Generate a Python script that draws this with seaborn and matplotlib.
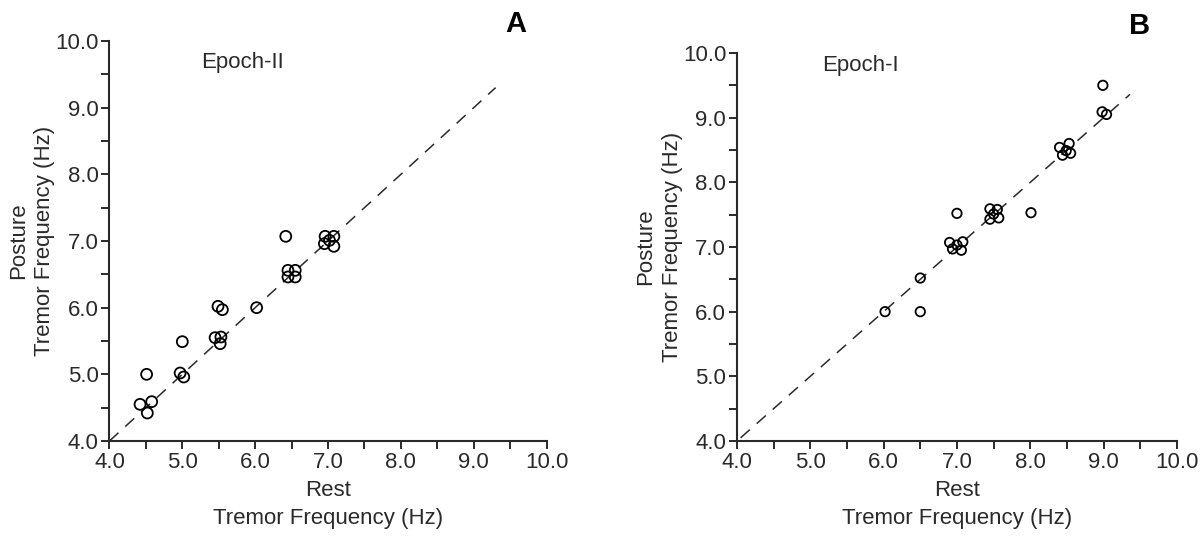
import numpy as np
import pandas as pd
import matplotlib
matplotlib.use("Agg")
import matplotlib.pyplot as plt
from matplotlib.ticker import MultipleLocator, FormatStrFormatter
import seaborn as sns

# Epoch-II (panel A): rest vs posture tremor frequency (Hz)
rest_a = [4.42, 4.52, 4.58, 4.51, 4.97, 5.02, 5.00, 5.45, 5.53, 5.52, 5.49, 5.55,
          6.02, 6.42, 6.45, 6.55, 6.45, 6.55, 6.96, 7.08, 6.95, 7.08, 7.02]
posture_a = [4.55, 4.42, 4.59, 5.00, 5.02, 4.96, 5.49, 5.55, 5.56, 5.46, 6.02, 5.97,
             6.00, 7.07, 6.56, 6.56, 6.46, 6.46, 7.07, 7.07, 6.96, 6.92, 7.01]

# Epoch-I (panel B)
rest_b = [6.02, 6.50, 6.50, 6.90, 7.00, 6.94, 7.06, 7.08, 7.00, 7.45, 7.55, 7.45,
          7.57, 7.50, 8.01, 8.40, 8.53, 8.44, 8.55, 8.49, 8.99, 8.98, 9.04]
posture_b = [6.00, 6.52, 6.00, 7.07, 7.03, 6.97, 6.95, 7.08, 7.52, 7.59, 7.58, 7.43,
             7.45, 7.51, 7.53, 8.54, 8.60, 8.42, 8.45, 8.49, 9.50, 9.09, 9.05]

sns.set_style("ticks")
plt.rcParams['font.family'] = ['Liberation Sans', 'DejaVu Sans']
ink = '#2a2a2a'

fig = plt.figure(figsize=(12.04, 5.38), dpi=100)
ax_a = fig.add_axes([0.0909, 0.1803, 0.3631, 0.7435])
ax_b = fig.add_axes([0.6121, 0.1803, 0.3654, 0.7212])

# (axes, x, y, epoch text, epoch position, identity line span, marker size)
panels = [
    (ax_a, rest_a, posture_a, "Epoch-II", (5.26, 9.67), (4.0, 9.3), 62),
    (ax_b, rest_b, posture_b, "Epoch-I", (5.16, 9.81), (4.05, 9.36), 46),
]

for ax, rx, py, epoch, epos, span, msize in panels:
    df = pd.DataFrame({"rest": rx, "posture": py})
    ax.plot(span, span, color=ink, lw=1.1, dashes=(8, 6), zorder=1)
    sns.scatterplot(data=df, x="rest", y="posture", ax=ax, s=msize,
                    facecolor='none', edgecolor='black', linewidth=1.3,
                    zorder=3, legend=False)
    ax.set_xlim(4.0, 10.0)
    ax.set_ylim(4.0, 10.0)
    ax.xaxis.set_major_locator(MultipleLocator(1.0))
    ax.yaxis.set_major_locator(MultipleLocator(1.0))
    ax.xaxis.set_minor_locator(MultipleLocator(0.5))
    ax.yaxis.set_minor_locator(MultipleLocator(0.5))
    ax.xaxis.set_major_formatter(FormatStrFormatter('%.1f'))
    ax.yaxis.set_major_formatter(FormatStrFormatter('%.1f'))
    ax.tick_params(which='both', direction='out', length=5.8, width=1.4,
                   color=ink, labelsize=16, labelcolor=ink, pad=2)
    for side in ['top', 'right']:
        ax.spines[side].set_visible(False)
    for side in ['left', 'bottom']:
        ax.spines[side].set_linewidth(1.5)
        ax.spines[side].set_color(ink)
    ax.set_xlabel("Rest\nTremor Frequency (Hz)", fontsize=16, color=ink,
                  labelpad=5, linespacing=1.45)
    ax.set_ylabel("Posture\nTremor Frequency (Hz)", fontsize=16, color=ink,
                  labelpad=0, linespacing=1.35)
    ax.text(epos[0], epos[1], epoch, fontsize=16, color=ink,
            ha='left', va='center')

fig.text(515.5 / 1204, 1 - 24 / 538, "A", fontsize=21, fontweight='bold',
         ha='center', va='center', color='black')
fig.text(1140 / 1204, 1 - 26 / 538, "B", fontsize=21, fontweight='bold',
         ha='center', va='center', color='black')

fig.savefig("out.png", dpi=100)
